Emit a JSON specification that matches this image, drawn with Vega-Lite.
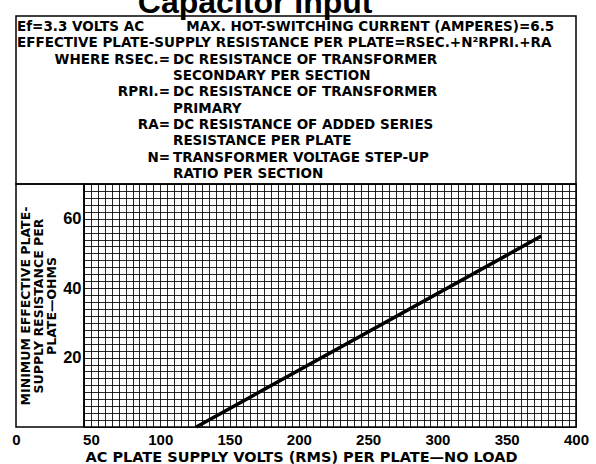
{
  "$schema": "https://vega.github.io/schema/vega-lite/v6.json",
  "background": "white",
  "padding": {"left": 11, "top": -13, "right": 0, "bottom": 0},
  "title": {"text": "Capacitor Input", "fontSize": 32, "fontWeight": "bold", "font": "Liberation Sans", "color": "black", "anchor": "middle", "dx": -45, "offset": -5},
  "config": {
    "font": "DejaVu Sans",
    "view": {"stroke": "black", "strokeWidth": 1.5},
    "axis": {"labelColor": "black", "titleColor": "black", "labelFont": "Liberation Sans", "titleFont": "DejaVu Sans"}
  },
  "spacing": 0,
  "bounds": "flush",
  "vconcat": [
    {
      "width": 560,
      "height": 168,
      "data": {"values": [
        {"line": 1, "col": "full", "part": "full", "text": "Ef=3.3 VOLTS AC\u00a0\u00a0\u00a0\u00a0\u00a0\u00a0\u00a0\u00a0\u00a0MAX. HOT-SWITCHING CURRENT (AMPERES)=6.5"},
        {"line": 2, "col": "full", "part": "full", "text": "EFFECTIVE PLATE-SUPPLY RESISTANCE PER PLATE=RSEC.+N\u00b2RPRI.+RA"},
        {"line": 3, "col": "split", "part": "term", "text": "WHERE RSEC.="},
        {"line": 3, "col": "split", "part": "def", "text": "DC RESISTANCE OF TRANSFORMER"},
        {"line": 4, "col": "split", "part": "def", "text": "SECONDARY PER SECTION"},
        {"line": 5, "col": "split", "part": "term", "text": "RPRI.="},
        {"line": 5, "col": "split", "part": "def", "text": "DC RESISTANCE OF TRANSFORMER"},
        {"line": 6, "col": "split", "part": "def", "text": "PRIMARY"},
        {"line": 7, "col": "split", "part": "term", "text": "RA="},
        {"line": 7, "col": "split", "part": "def", "text": "DC RESISTANCE OF ADDED SERIES"},
        {"line": 8, "col": "split", "part": "def", "text": "RESISTANCE PER PLATE"},
        {"line": 9, "col": "split", "part": "term", "text": "N="},
        {"line": 9, "col": "split", "part": "def", "text": "TRANSFORMER VOLTAGE STEP-UP"},
        {"line": 10, "col": "split", "part": "def", "text": "RATIO PER SECTION"}
      ]},
      "encoding": {
        "x": {"field": "col", "type": "nominal", "scale": {"type": "point", "domain": ["full", "split"], "range": [1, 155], "padding": 0}, "axis": null},
        "y": {"field": "line", "type": "quantitative", "scale": {"domain": [0.1, 10.35], "reverse": true, "nice": false, "zero": false}, "axis": null},
        "text": {"field": "text", "type": "nominal"}
      },
      "layer": [
        {"transform": [{"filter": "datum.part === 'full'"}], "mark": {"type": "text", "align": "left", "baseline": "alphabetic", "fontSize": 13.5, "fontWeight": "bold", "color": "black"}},
        {"transform": [{"filter": "datum.part === 'def'"}], "mark": {"type": "text", "align": "left", "dx": 2, "baseline": "alphabetic", "fontSize": 13.5, "fontWeight": "bold", "color": "black"}},
        {"transform": [{"filter": "datum.part === 'term'"}], "mark": {"type": "text", "align": "right", "dx": -1, "baseline": "alphabetic", "fontSize": 13.5, "fontWeight": "bold", "color": "black"}}
      ]
    },
    {
      "spacing": 0,
      "bounds": "flush",
      "hconcat": [
        {
          "width": 68,
          "height": 243,
          "data": {"values": []},
          "mark": {"type": "point", "opacity": 0},
          "encoding": {
            "x": {"field": "v", "type": "quantitative", "scale": {"domain": [0, 45], "nice": false, "zero": false},
                  "axis": {"values": [0], "title": null, "ticks": false, "domain": false, "grid": false, "labelFlush": false, "labelPadding": 5, "labelFontSize": 15, "labelFontWeight": "bold", "labelDx": -2}}
          }
        },
        {
          "width": 492,
          "height": 243,
          "data": {"values": [{"volts": 126, "ohms": 0}, {"volts": 375, "ohms": 55}]},
          "mark": {"type": "line", "color": "black", "strokeWidth": 3.5, "strokeCap": "butt"},
          "encoding": {
            "x": {"field": "volts", "type": "quantitative", "scale": {"domain": [45, 400], "nice": false, "zero": false},
                  "axis": {"tickCount": 71, "grid": true, "gridColor": "black", "gridOpacity": 0.85, "gridWidth": 1,
                           "labelExpr": "datum.value % 50 === 0 ? datum.label : ''", "ticks": false, "domain": false,
                           "labelOverlap": false, "labelFlush": false, "labelPadding": 5, "labelFontSize": 15, "labelFontWeight": "bold",
                           "title": "AC PLATE SUPPLY VOLTS (RMS) PER PLATE\u2014NO LOAD", "titleFontSize": 14.5, "titleFontWeight": "bold", "titleX": 217, "titlePadding": 3}},
            "y": {"field": "ohms", "type": "quantitative", "scale": {"domain": [0, 70], "nice": false},
                  "axis": {"tickCount": 35, "grid": true, "gridColor": "black", "gridOpacity": 0.85, "gridWidth": 1,
                           "labelExpr": "datum.value > 0 && datum.value % 20 === 0 ? datum.label : ''", "ticks": false, "domain": false,
                           "labelOverlap": false, "labelPadding": 3, "labelFontSize": 16.5, "labelFontWeight": "bold",
                           "title": ["MINIMUM EFFECTIVE PLATE-", "SUPPLY RESISTANCE PER", "PLATE\u2014OHMS"], "titleFontSize": 12.5, "titleFontWeight": "bold", "titleLineHeight": 13, "titlePadding": 4}}
          }
        }
      ]
    }
  ]
}
